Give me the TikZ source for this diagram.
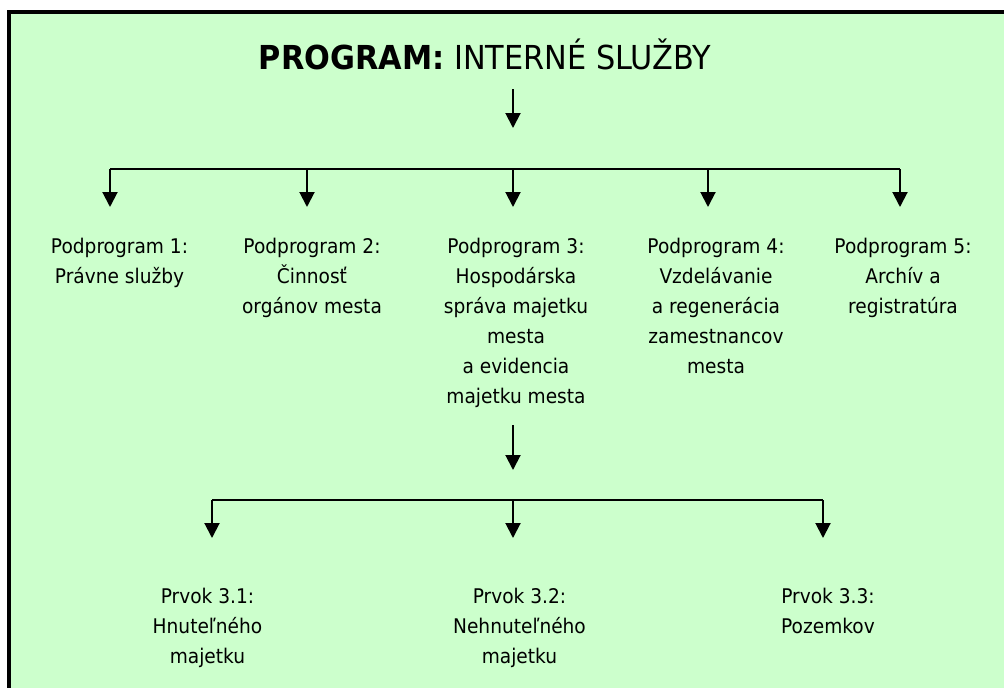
\documentclass[tikz,border=0pt]{standalone}
\usepackage{fontspec}
\setmainfont{DejaVu Sans}[FakeStretch=0.92]
\usetikzlibrary{arrows.meta}
\definecolor{bgreen}{HTML}{CCFFCC}
\tikzstyle{frame} = [draw, line width=4pt, fill=bgreen]
\tikzstyle{line} = [draw, line width=2pt]
\tikzstyle{arrow} = [draw, line width=2pt, -{Triangle[width=15pt, length=15pt]}]
\tikzstyle{desc} = [align=center, anchor=north, inner sep=0pt, font=\fontsize{20.2}{30}\selectfont]

\begin{document}
\begin{tikzpicture}[x=1pt, y=-1pt]
\useasboundingbox (0, 0) rectangle (1004, 688);
\draw[frame] (9, 12) rectangle (1030, 710);

%% program
\node[anchor=base, inner sep=0pt, font=\fontsize{33}{40}\selectfont] at (485, 69) (title) {\textbf{PROGRAM:} INTERNÉ SLUŽBY};

\coordinate (titleout) at (513, 89);
\coordinate (titletip) at (513, 128);
\path [arrow] (titleout) to (titletip);

\coordinate (busleft) at (110, 169);
\coordinate (busright) at (900, 169);
\path [line] (busleft) to (busright);

\coordinate (bus1) at (110, 169);
\coordinate (bus2) at (307, 169);
\coordinate (bus3) at (513, 169);
\coordinate (bus4) at (708, 169);
\coordinate (bus5) at (900, 169);
\coordinate (tip1) at (110, 207);
\coordinate (tip2) at (307, 207);
\coordinate (tip3) at (513, 207);
\coordinate (tip4) at (708, 207);
\coordinate (tip5) at (900, 207);
\path [arrow] (bus1) to (tip1);
\path [arrow] (bus2) to (tip2);
\path [arrow] (bus3) to (tip3);
\path [arrow] (bus4) to (tip4);
\path [arrow] (bus5) to (tip5);

%% podprogramy
\node[desc] at (119.5, 237.6) (sub1) {Podprogram 1:\\Právne služby};
\node[desc] at (312, 237.6) (sub2) {Podprogram 2:\\Činnosť\\orgánov mesta};
\node[desc] at (516, 237.6) (sub3) {Podprogram 3:\\Hospodárska\\správa majetku\\mesta\\a evidencia\\majetku mesta};
\node[desc] at (716, 237.6) (sub4) {Podprogram 4:\\Vzdelávanie\\a regenerácia\\zamestnancov\\mesta};
\node[desc] at (903, 237.6) (sub5) {Podprogram 5:\\Archív a\\registratúra};

%% prvky podprogramu 3
\coordinate (subout) at (513, 425);
\coordinate (subtip) at (513, 470);
\path [arrow] (subout) to (subtip);

\coordinate (elbusleft) at (212, 500);
\coordinate (elbusright) at (823, 500);
\path [line] (elbusleft) to (elbusright);

\coordinate (elbus1) at (212, 500);
\coordinate (elbus2) at (513, 500);
\coordinate (elbus3) at (823, 500);
\coordinate (eltip1) at (212, 538);
\coordinate (eltip2) at (513, 538);
\coordinate (eltip3) at (823, 538);
\path [arrow] (elbus1) to (eltip1);
\path [arrow] (elbus2) to (eltip2);
\path [arrow] (elbus3) to (eltip3);

\node[desc] at (207.5, 587.6) (el1) {Prvok 3.1:\\Hnuteľného\\majetku};
\node[desc] at (519.5, 587.6) (el2) {Prvok 3.2:\\Nehnuteľného\\majetku};
\node[desc] at (828, 587.6) (el3) {Prvok 3.3:\\Pozemkov};
\end{tikzpicture}
\end{document}
